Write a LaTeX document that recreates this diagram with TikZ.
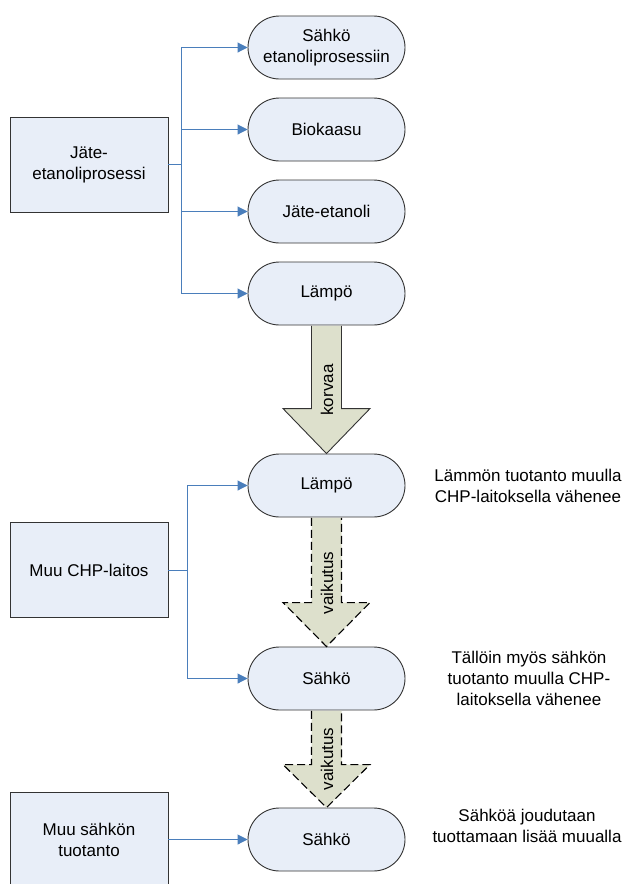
\documentclass[tikz,border=0pt]{standalone}
\usepackage{fontspec}
\setmainfont{Liberation Sans}
\usetikzlibrary{arrows.meta,calc}

\definecolor{nodefill}{HTML}{E8EEF8}
\definecolor{edgeline}{HTML}{333333}
\definecolor{linkblue}{HTML}{4A7EBB}
\definecolor{arrowfill}{HTML}{DDE0CC}

\begin{document}
\begin{tikzpicture}[x=1pt,y=-1pt,
  every node/.style={font=\fontsize{17}{21}\selectfont},
  pill/.style={draw=edgeline, fill=nodefill, line width=0.9pt,
    rounded corners=31.5pt, minimum width=157pt, minimum height=63pt,
    align=center, inner sep=0pt},
  sourcebox/.style={draw=edgeline, fill=nodefill, line width=0.9pt,
    minimum width=158pt, minimum height=95pt, align=center, inner sep=0pt},
  link/.style={draw=linkblue, line width=0.9pt,
    -{Triangle[length=10pt,width=10pt]}},
  bigarrow/.style={draw=edgeline, fill=arrowfill, line width=0.9pt, line join=miter},
  dasharrow/.style={bigarrow, draw=black, line width=1.1pt, dash pattern=on 8pt off 4pt},
  note/.style={align=center, inner sep=0pt},
  tag/.style={rotate=90, inner sep=0pt}
]
\useasboundingbox (0,0) rectangle (629,884);

% source boxes
\node[sourcebox] (jep) at (89,164.5) {Jäte-\\etanoliprosessi};
\node[sourcebox] (chp) at (89,570) {Muu CHP-laitos};
\node[sourcebox] (mst) at (89,839.5) {Muu sähkön\\tuotanto};

% outputs of the waste-ethanol process
\node[pill] (s1) at (326.5,47.5) {Sähkö\\etanoliprosessiin};
\node[pill] (bk) at (326.5,129.5) {Biokaasu};
\node[pill] (je) at (326.5,211.5) {Jäte-etanoli};
\node[pill] (l1) at (326.5,293.5) {Lämpö};

% other CHP plant and other electricity production
\node[pill] (l2) at (326.5,485.5) {Lämpö};
\node[pill] (s2) at (326.5,678.5) {Sähkö};
\node[pill] (s3) at (326.5,839.5) {Sähkö};

% branching connectors
\coordinate (hub1) at ([xshift=13pt]jep.east);
\draw[link] (jep.east) -- (hub1) |- (s1.west);
\draw[link] (hub1) |- (bk.west);
\draw[link] (hub1) |- (je.west);
\draw[link] (hub1) |- (l1.west);

\coordinate (hub2) at ([xshift=19pt]chp.east);
\draw[link] (chp.east) -- (hub2) |- (l2.west);
\draw[link] (hub2) |- (s2.west);

\draw[link] (mst.east) -- (s3.west);

% block arrows between the nodes
\fill[arrowfill] ($(l1.south)+(-15,0.5)$) -- ($(l2.north)+(-15,-45)$) -- ($(l2.north)+(-43.5,-45)$)
  -- (l2.north) -- ($(l2.north)+(43.5,-45)$) -- ($(l2.north)+(15,-45)$) -- ($(l1.south)+(15,0.5)$) -- cycle;
\draw[bigarrow, fill=none] ($(l1.south)+(-15,0.5)$) -- ($(l2.north)+(-15,-45)$) -- ($(l2.north)+(-43.5,-45)$)
  -- (l2.north) -- ($(l2.north)+(43.5,-45)$) -- ($(l2.north)+(15,-45)$) -- ($(l1.south)+(15,0.5)$);
\node[tag] (korvaa) at (327,390) {korvaa};

\fill[arrowfill] ($(l2.south)+(-15,0.5)$) -- ($(s2.north)+(-15,-44)$) -- ($(s2.north)+(-43.5,-44)$)
  -- (s2.north) -- ($(s2.north)+(43.5,-44)$) -- ($(s2.north)+(15,-44)$) -- ($(l2.south)+(15,0.5)$) -- cycle;
\draw[dasharrow, fill=none] ($(l2.south)+(-15,0.5)$) -- ($(s2.north)+(-15,-44)$) -- ($(s2.north)+(-43.5,-44)$)
  -- (s2.north) -- ($(s2.north)+(43.5,-44)$) -- ($(s2.north)+(15,-44)$) -- ($(l2.south)+(15,0.5)$);
\node[tag] (vk1) at (327,583) {vaikutus};

\fill[arrowfill] ($(s2.south)+(-15,0.5)$) -- ($(s3.north)+(-15,-43)$) -- ($(s3.north)+(-43.5,-43)$)
  -- (s3.north) -- ($(s3.north)+(43.5,-43)$) -- ($(s3.north)+(15,-43)$) -- ($(s2.south)+(15,0.5)$) -- cycle;
\draw[dasharrow, fill=none] ($(s2.south)+(-15,0.5)$) -- ($(s3.north)+(-15,-43)$) -- ($(s3.north)+(-43.5,-43)$)
  -- (s3.north) -- ($(s3.north)+(43.5,-43)$) -- ($(s3.north)+(15,-43)$) -- ($(s2.south)+(15,0.5)$);
\node[tag] (vk2) at (327,759) {vaikutus};

% explanatory notes
\node[note] (n1) at (528,486) {Lämmön tuotanto muulla\\CHP-laitoksella vähenee};
\node[note] (n2) at (529,678) {Tällöin myös sähkön\\tuotanto muulla CHP-\\laitoksella vähenee};
\node[note] (n3) at (527,826) {Sähköä joudutaan\\tuottamaan lisää muualla};
\end{tikzpicture}
\end{document}
